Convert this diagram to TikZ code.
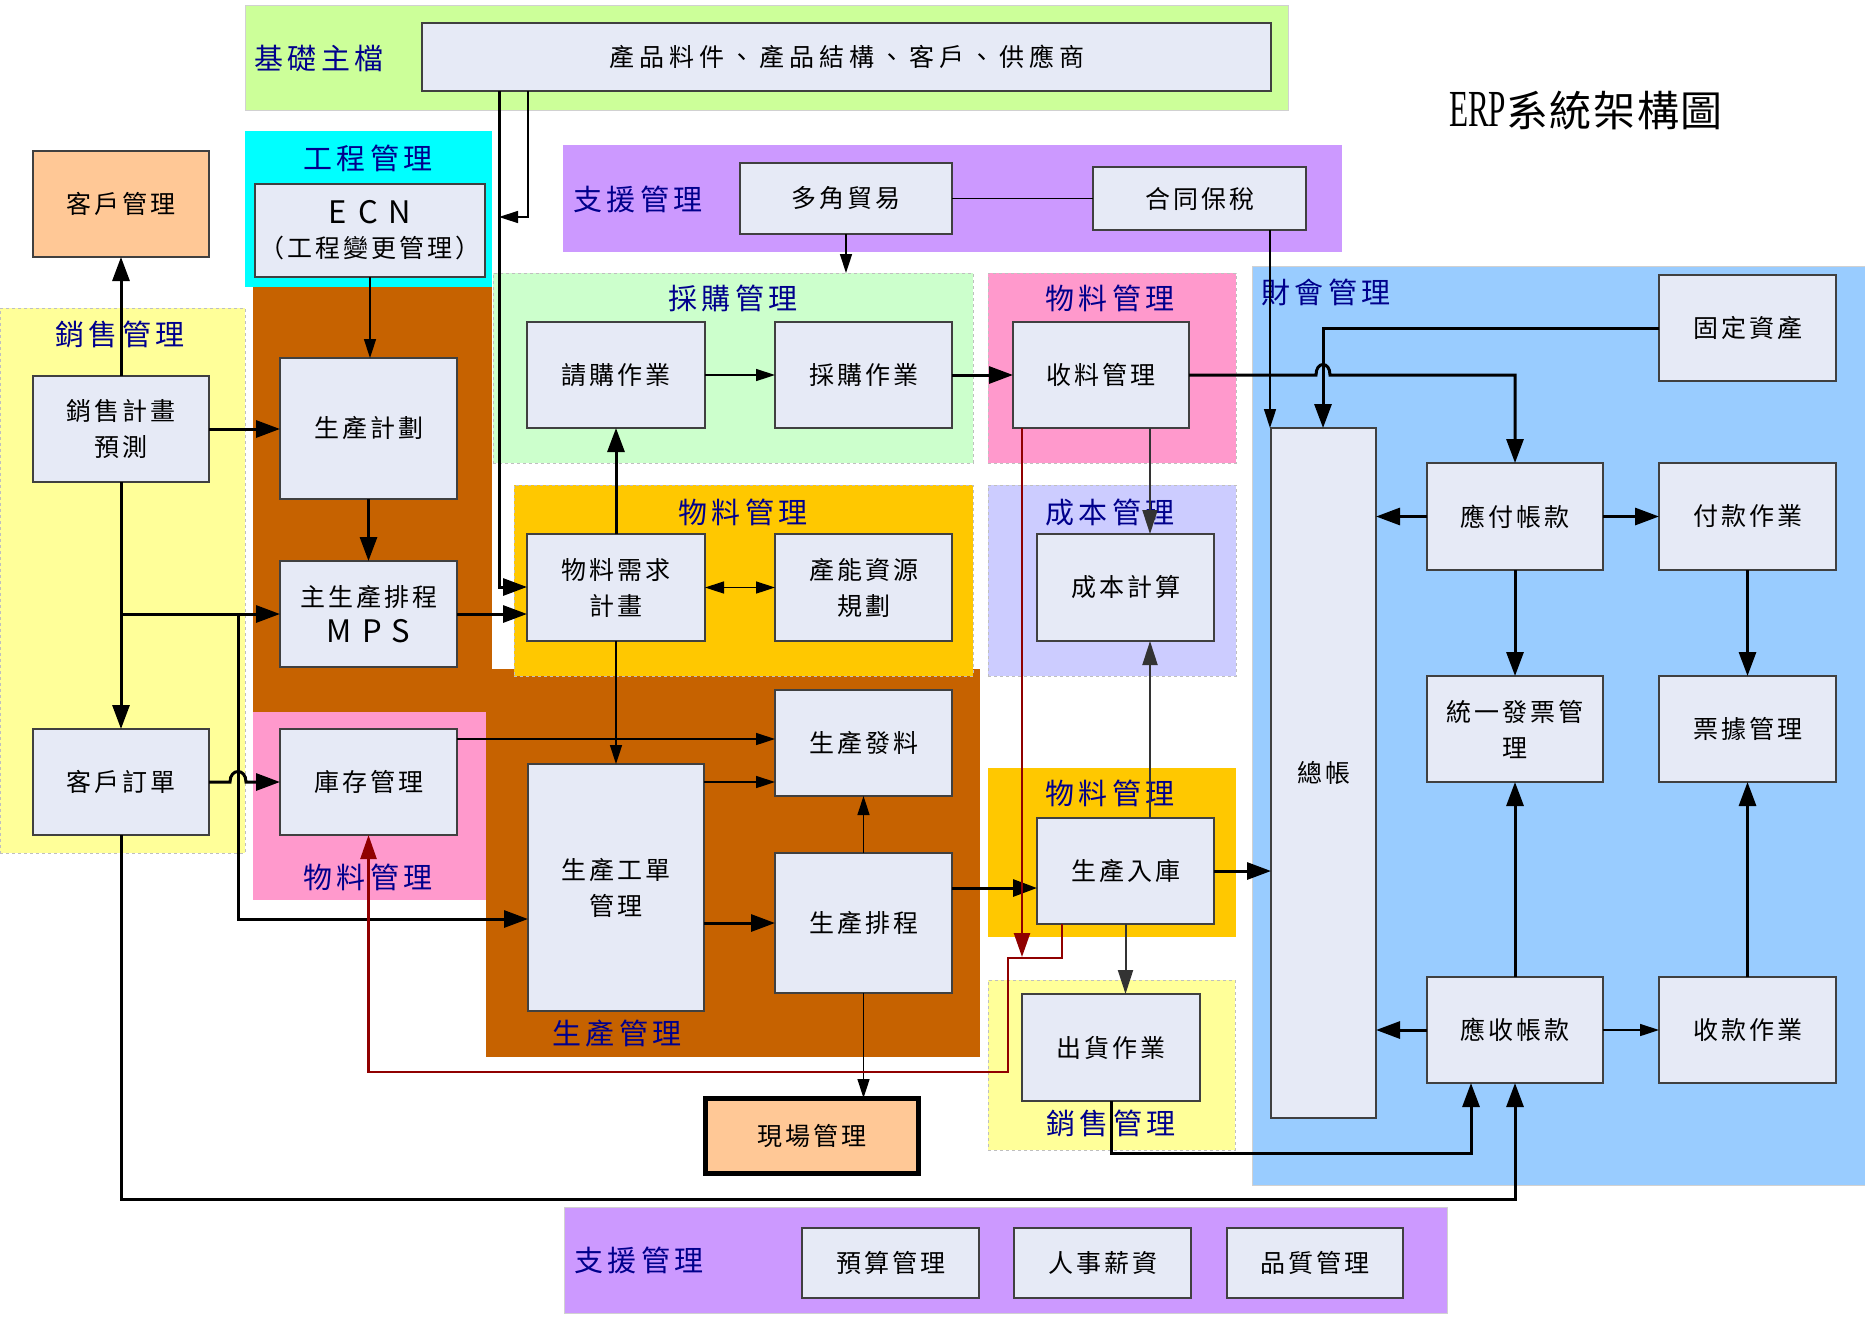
\documentclass[tikz,border=0pt]{standalone}
\usepackage{fontspec}
\setmainfont{Noto Sans CJK TC}
\newfontfamily\bxf[LetterSpace=12]{Noto Sans CJK TC}
\newfontfamily\bxw[LetterSpace=20]{Noto Sans CJK TC}
\newfontfamily\lbf[LetterSpace=14]{Noto Sans CJK TC}
\newfontfamily\ttlf[LetterSpace=4]{Noto Sans CJK TC}
\newfontfamily\erpf{Liberation Serif}
\usetikzlibrary{arrows.meta}
\definecolor{boxfill}{RGB}{230,234,246}
\definecolor{boxline}{RGB}{64,64,64}
\definecolor{navyl}{RGB}{0,0,140}
\definecolor{gA}{RGB}{204,255,153}
\definecolor{gB}{RGB}{204,255,204}
\definecolor{yA}{RGB}{255,255,153}
\definecolor{brn}{RGB}{198,98,0}
\definecolor{gold}{RGB}{255,200,0}
\definecolor{pur}{RGB}{204,153,255}
\definecolor{pnk}{RGB}{255,153,204}
\definecolor{blu}{RGB}{153,204,255}
\definecolor{lav}{RGB}{204,204,255}
\definecolor{orb}{RGB}{255,200,150}
\definecolor{cyn}{RGB}{0,255,255}
\definecolor{dred}{RGB}{144,0,0}
\definecolor{dgry}{RGB}{51,51,51}
\newcommand{\bx}[7][]{\node[box,#1,anchor=north west,minimum width={#5-#3},minimum height={#6-#4}] (#2) at (#3,#4) {#7};}
\newcommand{\rg}[6]{\node[anchor=north west,inner sep=0pt,outer sep=0pt,minimum width={#4-#2},minimum height={#5-#3},#6] (#1) at (#2,#3) {};}
\newcommand{\lat}[1]{{\fontsize{31}{36}\selectfont #1}}
\begin{document}
\begin{tikzpicture}[x=1pt,y=-1pt,
  box/.style={draw=boxline,line width=1.5pt,fill=boxfill,inner sep=0pt,outer sep=0pt,align=center,text=black,font=\bxf\fontsize{25}{36}\selectfont},
  grp/.style={text=navyl,inner sep=0pt,font=\lbf\fontsize{29}{32}\selectfont},
  rb/.style={draw=black!18,line width=1pt},
  rd/.style={draw=black!25,line width=1pt,dashed},
  lk/.style={line width=3pt},
  ln/.style={line width=1.5pt},
  lg/.style={line width=2pt,draw=dgry},
  lr/.style={line width=2.5pt,draw=dred},
  ak/.style={-{Triangle[length=24pt,width=17pt]}},
  an/.style={-{Triangle[length=19pt,width=12pt]}},
  ag/.style={-{Triangle[length=24pt,width=15pt]}},
  ar/.style={-{Triangle[length=24pt,width=16pt]}}]
\useasboundingbox (0,0) rectangle (1865,1318);
% ---------- regions ----------
\rg{rJC}{245}{5}{1288}{110}{fill=gA,rb}
\rg{rGC}{245}{131}{492}{287}{fill=cyn}
\rg{rXS}{0}{308}{245}{853}{fill=yA,rd}
\rg{rPa}{253}{287}{492}{712}{fill=brn}
\rg{rPb}{486}{669}{980}{1057}{fill=brn}
\rg{rCG}{493}{273}{973}{463}{fill=gB,rd}
\rg{rWLa}{514}{485}{973}{676}{fill=gold,rd}
\rg{rZYa}{563}{145}{1342}{252}{fill=pur}
\rg{rWLb}{988}{273}{1236}{463}{fill=pnk,rd}
\rg{rCB}{988}{485}{1236}{676}{fill=lav,rd}
\rg{rWLc}{988}{768}{1236}{937}{fill=gold}
\rg{rXSb}{988}{980}{1235}{1150}{fill=yA,rd}
\rg{rWLd}{253}{712}{486}{900}{fill=pnk}
\rg{rCH}{1252}{266}{1865}{1185}{fill=blu,rb}
\rg{rZYb}{564}{1207}{1447}{1313}{fill=pur,rb}
% ---------- region labels ----------
\node[grp] (lJC) at (319,58) {基礎主檔};
\node[grp] (lGC) at (368,158) {工程管理};
\node[grp] (lXS) at (120,334) {銷售管理};
\node[grp] (lCG) at (733,298) {採購管理};
\node[grp] (lZYa) at (638,199) {支援管理};
\node[grp] (lWLb) at (1110,298) {物料管理};
\node[grp] (lCH) at (1326,292) {財會管理};
\node[grp] (lWLa) at (743,512) {物料管理};
\node[grp] (lCB) at (1110,512) {成本管理};
\node[grp] (lWLc) at (1110,793) {物料管理};
\node[grp] (lXSb) at (1111,1123) {銷售管理};
\node[grp] (lWLd) at (368,877) {物料管理};
\node[grp] (lPR) at (617,1033) {生產管理};
\node[grp] (lZYb) at (639,1260) {支援管理};
\node[inner sep=0pt,font=\ttlf\fontsize{42}{46}\selectfont] (title) at (1586,111) {{\erpf\fontsize{52}{52}\selectfont\scalebox{0.6}[1]{ERP}}系統架構圖};
% ---------- boxes ----------
\bx[font=\bxw\fontsize{25}{30}\selectfont]{base}{422}{23}{1271}{91}{產品料件、產品結構、客戶、供應商}
\bx[fill=orb]{cust}{33}{151}{209}{257}{客戶管理}
\bx[font=\bxf\fontsize{25}{36}\selectfont]{ecn}{255}{184}{485}{277}{\lat{E\hspace{11pt}C\hspace{11pt}N}\\[-2pt]（工程變更管理）}
\bx{xsyc}{33}{376}{209}{482}{銷售計畫\\預測}
\bx{order}{33}{729}{209}{835}{客戶訂單}
\bx{plan}{280}{358}{457}{499}{生產計劃}
\bx{mps}{280}{561}{457}{667}{主生產排程\\\lat{M\hspace{10pt}P\hspace{10pt}S}}
\bx{stock}{280}{729}{457}{835}{庫存管理}
\bx{qg}{527}{322}{705}{428}{請購作業}
\bx{cg}{775}{322}{952}{428}{採購作業}
\bx{duo}{740}{163}{952}{234}{多角貿易}
\bx{hb}{1093}{167}{1306}{230}{合同保稅}
\bx{sl}{1013}{322}{1189}{428}{收料管理}
\bx{mrp}{527}{534}{705}{641}{物料需求\\計畫}
\bx{cap}{775}{534}{952}{641}{產能資源\\規劃}
\bx{cb}{1037}{534}{1214}{641}{成本計算}
\bx{fl}{775}{690}{952}{796}{生產發料}
\bx{wo}{528}{764}{704}{1011}{生產工單\\管理}
\bx{pc}{775}{853}{952}{993}{生產排程}
\bx{rk}{1037}{818}{1214}{924}{生產入庫}
\bx{ship}{1022}{994}{1200}{1101}{出貨作業}
\bx[fill=orb,draw=black,line width=5pt]{xc}{705}{1098}{918}{1173}{現場管理}
\bx{fa}{1659}{275}{1836}{381}{固定資產}
\bx{gl}{1271}{428}{1376}{1118}{總帳}
\bx{ap}{1427}{463}{1603}{570}{應付帳款}
\bx{pay}{1659}{463}{1836}{570}{付款作業}
\bx{inv}{1427}{676}{1603}{782}{統一發票管\\理}
\bx{bill}{1659}{676}{1836}{782}{票據管理}
\bx{ar}{1427}{977}{1603}{1083}{應收帳款}
\bx{rcv}{1659}{977}{1836}{1083}{收款作業}
\bx{ys}{802}{1228}{979}{1298}{預算管理}
\bx{rs}{1014}{1228}{1191}{1298}{人事薪資}
\bx{pz}{1227}{1228}{1403}{1298}{品質管理}
% ---------- helper coordinates ----------
\coordinate (k1) at (499,587);
\coordinate (k2) at (528,217);
\coordinate (k3) at (121,614);
\coordinate (k4) at (238,614);
\coordinate (k5) at (238,919);
\coordinate (h3) at (230,782);
\coordinate (h4) at (246,782);
\coordinate (k6) at (121,1199);
\coordinate (k7) at (1111,1153);
\coordinate (k8) at (1471,1153);
\coordinate (h1) at (1316,375);
\coordinate (h2) at (1330,375);
\coordinate (k9) at (1515,375);
\coordinate (k10) at (1323,328);
\coordinate (k11) at (1270,0);
\coordinate (k12) at (1150,0);
\coordinate (y739) at (0,739);
\coordinate (y782) at (0,782);
\coordinate (y888) at (0,888);
\coordinate (r5) at (1022,957);
\coordinate (r1) at (1062,958);
\coordinate (r2) at (1008,958);
\coordinate (r3) at (1008,1072);
\coordinate (r4) at (368.5,1072);
% ---------- connectors ----------
\draw[lk,ak] (base.south -| k1) -- (k1) -- (k1 -| mrp.west);
\draw[ln,an] (base.south -| k2) -- (k2) -- (k2 -| k1);
\draw[ln,an] (ecn.south) -- (ecn.south |- plan.north);
\draw[lk,ak] (xsyc.east) -- (xsyc.east -| plan.west);
\draw[lk,ak] (xsyc.south) -- (order.north);
\draw[lk,ak] (xsyc.north) -- (cust.south);
\draw[lk,ak] (k3) -- (mps.west);
\draw[lk,ak] (k4) -- (k5) -- (k5 -| wo.west);
\draw[lk,ak] (order.east) -- (h3) .. controls +(0,-14) and +(0,-14) .. (h4) -- (stock.west);
\draw[lk,ak] (order.south) -- (k6) -- (k6 -| ar.south) -- (ar.south);
\draw[lk,ak] (plan.south) -- (mps.north);
\draw[lk,ak] (mps.east) -- (mps.east -| mrp.west);
\draw[lk,ak] (mrp.north) -- (qg.south);
\draw[ln,an] (qg.east) -- (cg.west);
\draw[lk,ak] (cg.east) -- (sl.west);
\draw[ln,{Triangle[length=19pt,width=12pt]}-{Triangle[length=19pt,width=12pt]}] (mrp.east) -- (cap.west);
\draw[ln,an] (mrp.south) -- (wo.north);
\draw[ln,an] (stock.east |- y739) -- (fl.west |- y739);
\draw[ln,an] (wo.east |- y782) -- (fl.west |- y782);
\draw[ln,an] (pc.north) -- (fl.south);
\draw[lk,ak] (wo.east |- pc.west) -- (pc.west);
\draw[lk,ak] (pc.east |- y888) -- (rk.west |- y888);
\draw[ln,an] (pc.south) -- (pc.south |- xc.north);
\draw[ln] (duo.east) -- (hb.west);
\draw[ln,an] (duo.south) -- (duo.south |- rCG.north);
\draw[ln,an] (hb.south -| k11) -- (k11 |- gl.north);
\draw[lk,ak] (sl.east) -- (h1) .. controls +(0,-14) and +(0,-14) .. (h2) -- (k9) -- (ap.north);
\draw[lk,ak] (fa.west) -- (k10) -- (k10 |- gl.north);
\draw[lg,ag] (sl.south -| k12) -- (cb.north -| k12);
\draw[lg,ag] (rk.north -| k12) -- (cb.south -| k12);
\draw[lg,ag] (rk.south) -- (rk.south |- ship.north);
\draw[lr,ar] (sl.south -| r5) -- (r5);
\draw[lr,ar] (rk.south -| r1) -- (r1) -- (r2) -- (r3) -- (r4) -- (stock.south);
\draw[lk,ak] (rk.east) -- (rk.east -| gl.west);
\draw[lk,ak] (ship.south) -- (k7) -- (k8) -- (k8 |- ar.south);
\draw[lk,ak] (ap.west) -- (ap.west -| gl.east);
\draw[lk,ak] (ap.east) -- (pay.west);
\draw[lk,ak] (ap.south) -- (inv.north);
\draw[lk,ak] (pay.south) -- (bill.north);
\draw[lk,ak] (ar.north) -- (inv.south);
\draw[lk,ak] (rcv.north) -- (bill.south);
\draw[lk,ak] (ar.west) -- (ar.west -| gl.east);
\draw[ln,an] (ar.east) -- (rcv.west);
\end{tikzpicture}
\end{document}
